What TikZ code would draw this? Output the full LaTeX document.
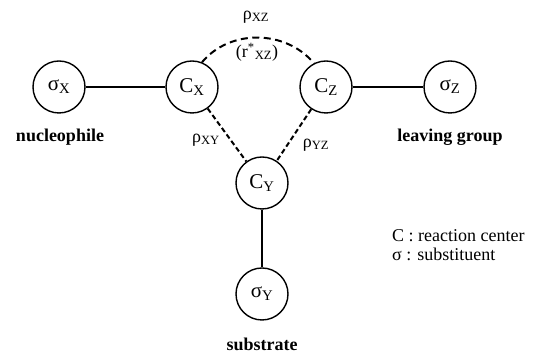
\documentclass[tikz,border=0pt]{standalone}
\usepackage{fontspec}
\setmainfont{Liberation Serif}
\begin{document}
\begin{tikzpicture}[x=1pt,y=1pt,
  site/.style={circle,draw,line width=1.4pt,minimum size=52pt,inner sep=0pt,
    font=\fontsize{21}{23}\selectfont},
  bond/.style={line width=1.2pt},
  partial/.style={line width=2pt,dash pattern=on 5pt off 3pt},
  arcbond/.style={line width=2pt,dash pattern=on 7pt off 4.5pt},
  caption/.style={font=\fontsize{18}{20}\selectfont\bfseries},
  rholabel/.style={font=\fontsize{18}{20}\selectfont,inner sep=1pt},
  legend/.style={font=\fontsize{18}{20}\selectfont,anchor=base west,inner sep=0pt}]
\useasboundingbox (0,0) rectangle (547,355);

% reaction centres and substituents
\node[site] (sx) at (59,268) {σ\textsubscript{X}};
\node[site] (cx) at (192,268) {C\textsubscript{X}};
\node[site] (cz) at (326,268) {C\textsubscript{Z}};
\node[site] (sz) at (450,268) {σ\textsubscript{Z}};
\node[site] (cy) at (262,172) {C\textsubscript{Y}};
\node[site] (sy) at (262,61) {σ\textsubscript{Y}};

% bonds
\draw[bond] (sx) -- (cx);
\draw[bond] (cz) -- (sz);
\draw[bond] (cy) -- (sy);
\draw[partial] (cx) -- (cy);
\draw[partial] (cz) -- (cy);
\draw[arcbond] (cx.68) to[out=50,in=130] (cz.117);

% interaction labels
\node[rholabel] (rxz) at (256,338) {ρ\textsubscript{XZ}};
\node[rholabel] (rstar) at (257,303) {(r\textsuperscript{*}\textsubscript{XZ})};
\node[rholabel] (rxy) at (206,215) {ρ\textsubscript{XY}};
\node[rholabel] (ryz) at (316,210) {ρ\textsubscript{YZ}};

% group names
\node[caption,anchor=base] (nu) at (60,213) {nucleophile};
\node[caption,anchor=base] (lg) at (450,213) {leaving group};
\node[caption,anchor=base] (sub) at (262,4) {substrate};

% legend
\node[legend] (l1) at (392,113) {C : reaction center};
\node[legend] (l2) at (392,94) {σ : substituent};
\end{tikzpicture}
\end{document}
